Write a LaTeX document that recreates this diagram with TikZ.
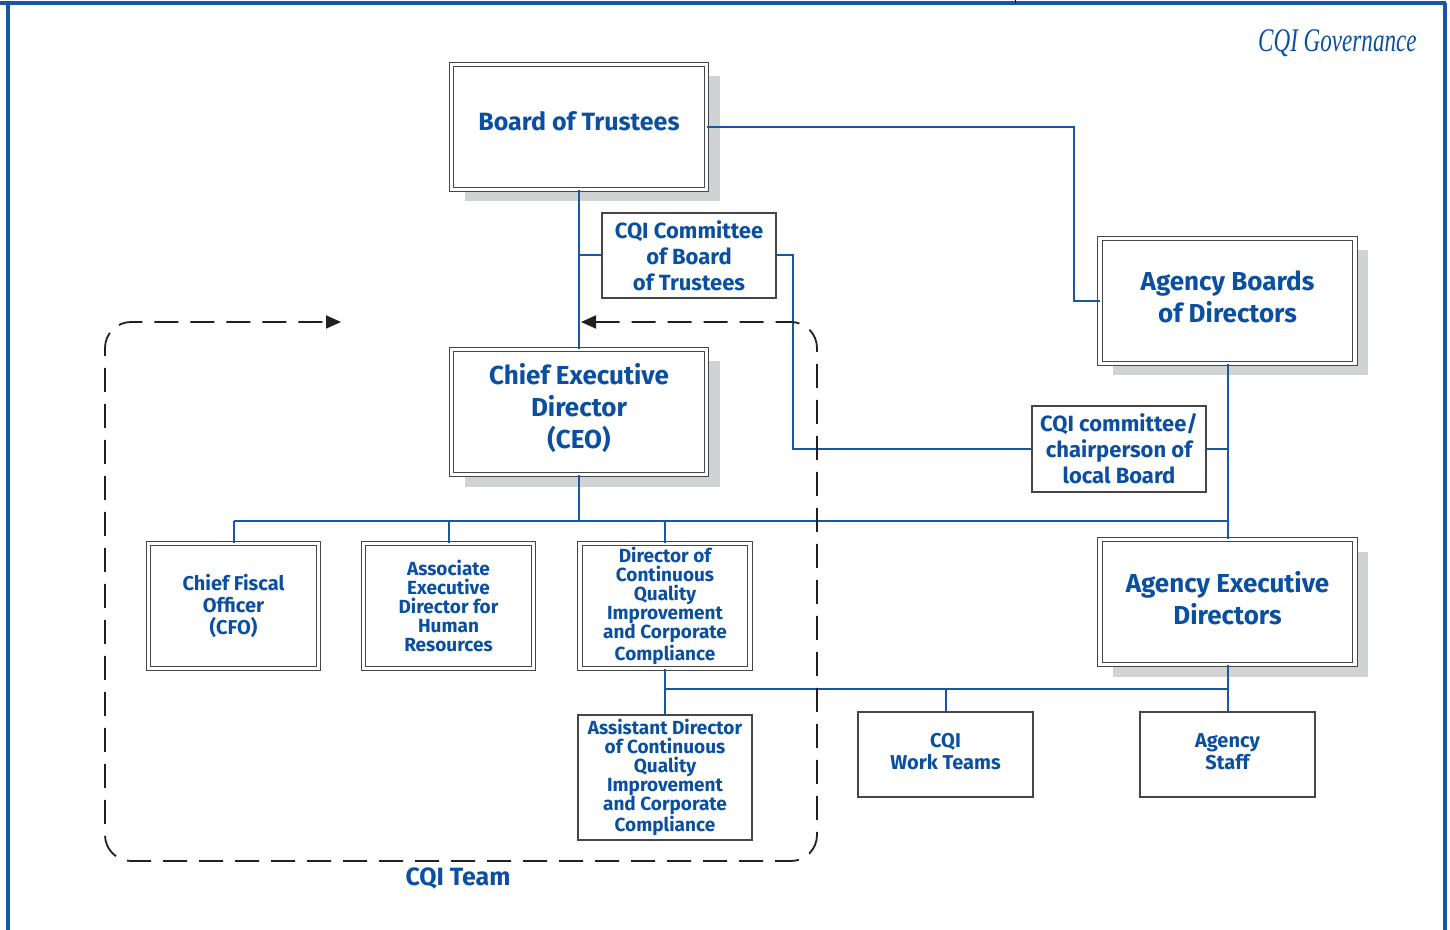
\documentclass[tikz,border=0pt]{standalone}
\usepackage{fontspec}
\setmainfont{Fira Sans}
\newfontfamily\titlefont[FakeStretch=0.7]{Liberation Serif}
\usetikzlibrary{arrows.meta,shadows}
\definecolor{cblue}{RGB}{11,79,160}
\definecolor{lblue}{RGB}{24,86,166}
\definecolor{bgray}{RGB}{70,70,70}
\definecolor{sgray}{RGB}{209,210,212}
\definecolor{dashc}{RGB}{35,31,32}
\begin{document}
\begin{tikzpicture}[x=0.5pt,y=-0.5pt,
  txt/.style={text=cblue, font=\bfseries, align=center, inner sep=0pt},
  dbox/.style={draw=bgray, line width=0.5pt, double=white, double distance=1.7pt, fill=white, inner sep=0pt},
  shad/.style={drop shadow={shadow xshift=6.5pt, shadow yshift=-6pt, fill=sgray, opacity=1}},
  sbox/.style={txt, draw=bgray, line width=0.6pt, fill=white},
  big/.style={dbox, shad, minimum width=127.5pt, minimum height=62.5pt},
  mid/.style={dbox, txt, minimum width=85pt, minimum height=62.5pt},
  conn/.style={draw=lblue, line width=1pt},
  frameline/.style={draw=lblue, line width=1.6pt},
  teamdash/.style={draw=dashc, line width=0.9pt, dash pattern=on 12pt off 6pt, rounded corners=13pt,
    {Triangle[length=7.5pt,width=6.5pt]}-{Triangle[length=7.5pt,width=6.5pt]}},
  fbig/.style={font=\fontsize{13}{16}\selectfont\bfseries},
  fmed/.style={font=\fontsize{11}{13}\selectfont\bfseries},
  fsm/.style={font=\fontsize{10}{11}\selectfont\bfseries},
  ftiny/.style={font=\fontsize{9.5}{9.5}\selectfont\bfseries}
]
\useasboundingbox (0,0) rectangle (1450,930);
% frame
\draw[frameline] (0,3) -- (1446,3);
\draw[frameline] (8,3) -- (8,930);
\draw[frameline] (1445,3) -- (1445,930);
\draw[black, line width=0.5pt] (1015,0) -- (1015,3);
\node[anchor=east, text=cblue, inner sep=0pt, font=\fontsize{16.5}{16.5}\selectfont\titlefont\itshape] (title) at (1417,43) {CQI Governance};

% big boxes with shadows (text placed separately)
\node[big] (board) at (579,127) {};
\node[txt, font=\fontsize{12.5}{16}\selectfont\bfseries] (boardt) at ([yshift=3pt]board.center) {Board of Trustees};
\node[big] (ceo) at (579,412) {};
\node[txt, fbig] (ceot) at ([yshift=1.8pt]ceo.center) {Chief Executive\\Director\\(CEO)};
\node[big] (agb) at (1227.5,301) {};
\node[txt, fbig] (agbt) at ([yshift=2pt]agb.center) {Agency Boards\\of Directors};
\node[big] (aed) at (1227.5,602) {};
\node[txt, fbig] (aedt) at ([yshift=2pt]aed.center) {Agency Executive\\Directors};

\node[sbox, fmed, minimum width=87pt, minimum height=42.5pt] (cqic) at (689,255.5) {CQI Committee\\of Board\\of Trustees};
\node[sbox, fmed, minimum width=87pt, minimum height=43pt] (chair) at (1119,449) {CQI committee/\\chairperson of\\local Board};

\node[mid, fsm] (cfo) at (233.5,606) {Chief Fiscal\\Officer\\(CFO)};
\node[mid, ftiny] (assoc) at (448.5,606) {Associate\\Executive\\Director for\\Human\\Resources};
\node[mid, ftiny] (dcqi) at (665,606) {Director of\\Continuous\\Quality\\Improvement\\and Corporate\\Compliance};

\node[sbox, ftiny, minimum width=87pt, minimum height=62.5pt] (asst) at (665,777.5) {Assistant Director\\of Continuous\\Quality\\Improvement\\and Corporate\\Compliance};
\node[sbox, minimum width=87.5pt, minimum height=42.5pt] (cwt) at (945.5,754.5) {};
\node[txt, fsm] (cwtt) at ([yshift=1.5pt]cwt.center) {CQI\\Work Teams};
\node[sbox, minimum width=87.5pt, minimum height=42.5pt] (staff) at (1227.5,754.5) {};
\node[txt, fsm] (stafft) at ([yshift=1.5pt]staff.center) {Agency\\Staff};

\node[txt, font=\fontsize{12.5}{14}\selectfont\bfseries] (team) at (458,878) {CQI Team};

% helper coordinates
\coordinate (xr) at (1074,0);
\coordinate (xc) at (793,0);
\coordinate (bus) at (0,521);
\coordinate (bus2) at (0,689);

% connectors
\draw[conn] (board.east) -- (board.east -| xr) |- (agb.west);
\draw[conn] (board.south) -- (ceo.north);
\draw[conn] (cqic.west) -- (cqic.west -| board.south);
\draw[conn] (cqic.east) -- (cqic.east -| xc) |- (chair.west);
\draw[conn] (chair.east) -- (chair.east -| agb.south);
\draw[conn] (agb.south) -- (aed.north);
\draw[conn] (ceo.south) -- (ceo.south |- bus);
\draw[conn] (cfo.north |- bus) -- (aed.north |- bus);
\draw[conn] (cfo.north) -- (cfo.north |- bus);
\draw[conn] (assoc.north) -- (assoc.north |- bus);
\draw[conn] (dcqi.north) -- (dcqi.north |- bus);
\draw[conn] (dcqi.south) -- (asst.north);
\draw[conn] (dcqi.south |- bus2) -- (aed.south |- bus2);
\draw[conn] (cwt.north) -- (cwt.north |- bus2);
\draw[conn] (aed.south) -- (staff.north);

% CQI team dashed loop
\coordinate (d1) at (581,322);
\coordinate (d2) at (817,322);
\coordinate (d3) at (817,861);
\coordinate (d4) at (105,861);
\coordinate (d5) at (105,322);
\coordinate (d6) at (341,322);
\draw[teamdash] (d1) -- (d2) -- (d3) -- (d4) -- (d5) -- (d6);
\end{tikzpicture}
\end{document}
